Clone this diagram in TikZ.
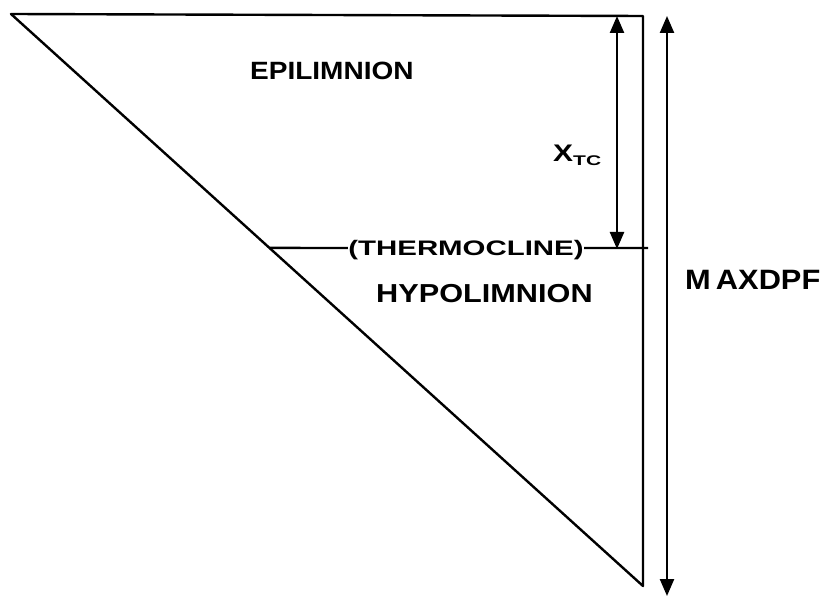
\documentclass[tikz,border=0pt]{standalone}
\usepackage{fontspec}
\setmainfont{Liberation Sans}
\usetikzlibrary{arrows.meta,calc}
\tikzset{
  edge/.style={line width=2.4pt, line join=round},
  dimarrow/.style={line width=2.4pt, {Triangle[width=14pt,length=17pt]}-{Triangle[width=14pt,length=17pt]}},
  lbl/.style={font=\bfseries\fontsize{25}{28}\selectfont, inner sep=0pt},
  lblsmall/.style={font=\bfseries\fontsize{21}{24}\selectfont, inner sep=0pt, fill=white}
}
\begin{document}
\begin{tikzpicture}[x=1pt,y=-1pt]
\useasboundingbox (0,0) rectangle (833,596);
% triangle
\coordinate (A) at (11,14);
\coordinate (B) at (643,16);
\coordinate (C) at (643,586);
\draw[edge] (A) -- (B) -- (C) -- cycle;
% thermocline
\coordinate (TL) at ($(A)!0.409!(C)$);
\coordinate (TR) at (648,248);
\draw[edge] (TL) -- (TR);
\node[lblsmall, anchor=base] (thermo) at (466,256) {\scalebox{1.4}[1]{(THERMOCLINE)}};
% X_TC arrow
\coordinate (xt) at (617,16);
\coordinate (xb) at (617,249);
\draw[dimarrow] (xt) -- (xb);
\node[lbl, anchor=base west] (xtc) at (553,162) {\scalebox{1.25}[1]{\fontsize{24}{26}\selectfont X}\raisebox{-4pt}{\scalebox{1.5}[1]{\fontsize{14}{16}\selectfont TC}}};
% MAXDPF arrow
\coordinate (mt) at (667,16);
\coordinate (mb) at (667,596);
\draw[dimarrow] (mt) -- (mb);
\node[lbl, anchor=base west] (maxdpf) at (685,290) {\fontsize{28}{30}\selectfont\scalebox{1.1}[1]{M\,AXDPF}};
% labels
\node[lbl, anchor=base west] (epi) at (250,80) {\scalebox{1.12}[1]{EPILIMNION}};
\node[lbl, anchor=base west] (hypo) at (376,302) {\fontsize{26}{28}\selectfont\scalebox{1.18}[1]{HYPOLIMNION}};
\end{tikzpicture}
\end{document}
